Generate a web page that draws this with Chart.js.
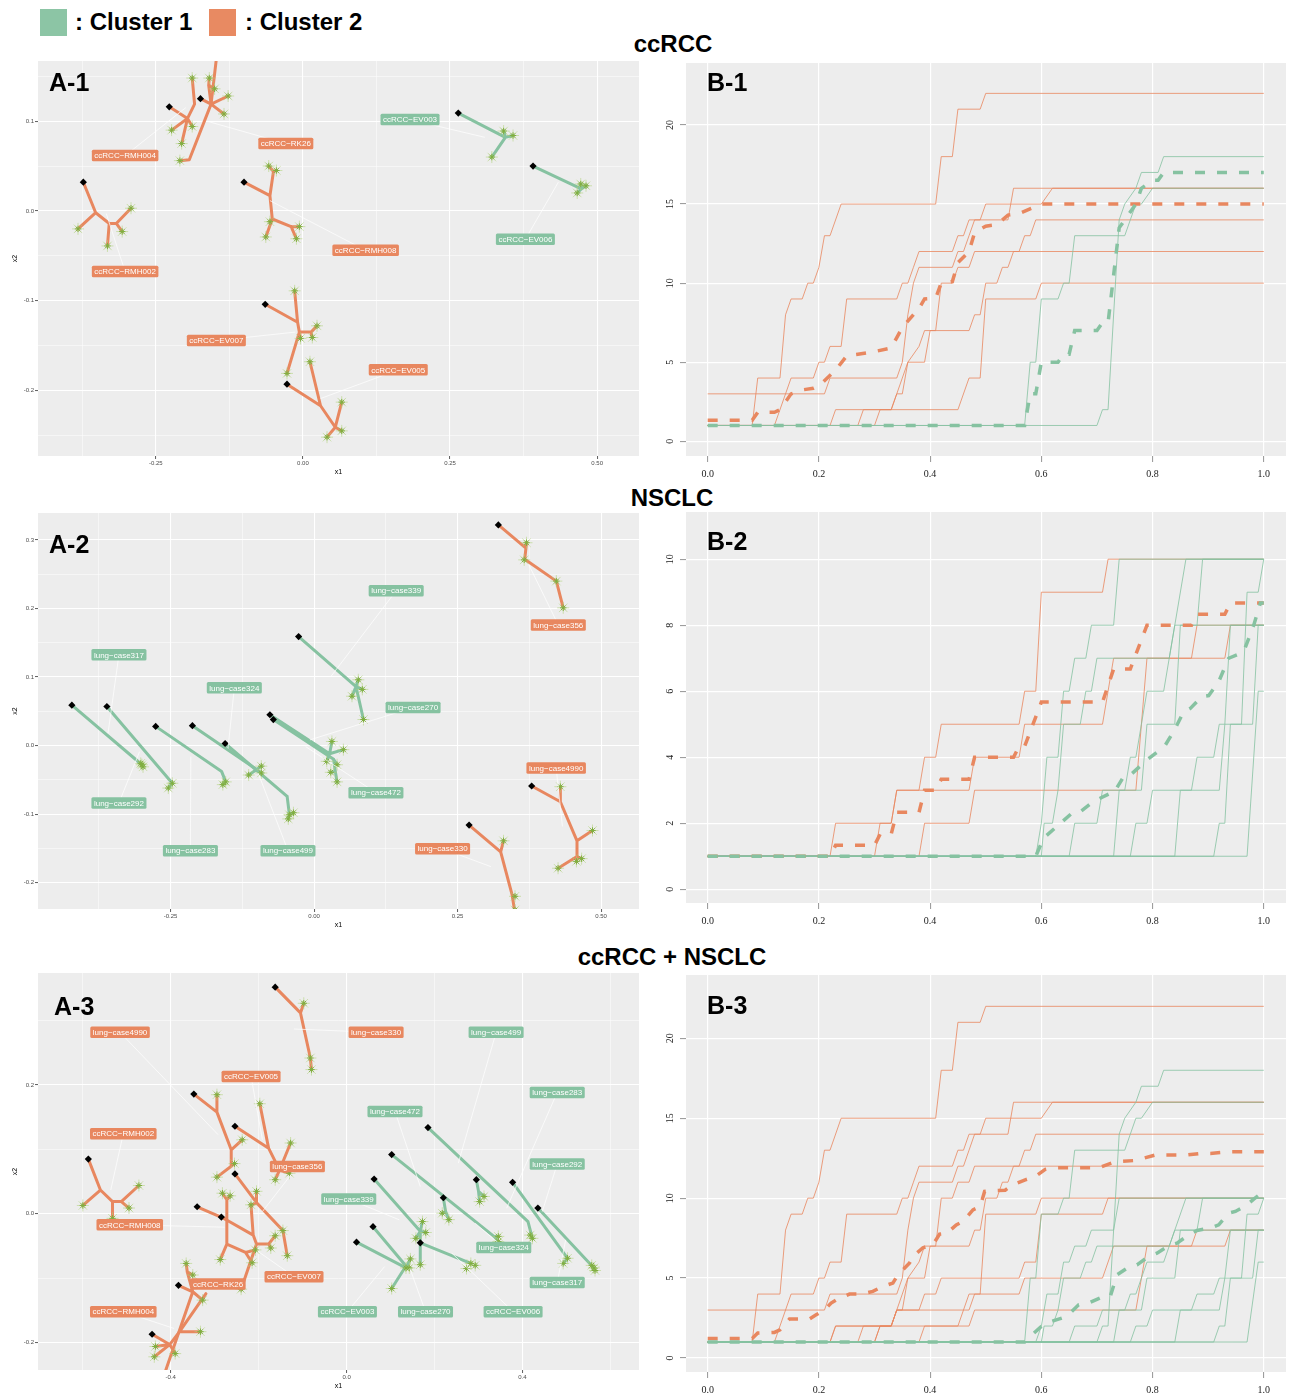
<!DOCTYPE html>
<html>
<head>
<meta charset="utf-8">
<script src="https://cdn.jsdelivr.net/npm/chart.js@4.4.0/dist/chart.umd.min.js"></script>
<style>
body { margin: 0; background: #fff; }
#page { position: relative; width: 1290px; height: 1395px; overflow: hidden; font-family: "Liberation Sans", Arial, sans-serif; }
canvas { position: absolute; }
.sq { position: absolute; width: 27px; height: 27px; }
.leg { position: absolute; font-weight: bold; font-size: 24px; line-height: 1; white-space: nowrap; }
.ttl { position: absolute; font-weight: bold; font-size: 24px; line-height: 1; white-space: nowrap; transform: translate(-50%, -50%); }
.tag { position: absolute; font-weight: bold; font-size: 25px; line-height: 1; white-space: nowrap; }
</style>
</head>
<body>
<div id="page">
  <div class="sq" style="left:40px;top:9px;background:#8CC5A5"></div>
  <div class="leg" style="left:75px;top:10px">: Cluster 1</div>
  <div class="sq" style="left:209px;top:9px;background:#E88A62"></div>
  <div class="leg" style="left:245px;top:10px">: Cluster 2</div>

  <div class="ttl" style="left:673px;top:44px">ccRCC</div>
  <div class="ttl" style="left:672px;top:498px">NSCLC</div>
  <div class="ttl" style="left:672px;top:957px">ccRCC + NSCLC</div>

  <canvas id="a1" width="639" height="415" style="left:0;top:61px"></canvas>
  <canvas id="b1" width="640" height="419" style="left:646px;top:63px"></canvas>
  <canvas id="a2" width="639" height="416" style="left:0;top:513px"></canvas>
  <canvas id="b2" width="640" height="417" style="left:646px;top:512px"></canvas>
  <canvas id="a3" width="639" height="417" style="left:0;top:973px"></canvas>
  <canvas id="b3" width="640" height="419" style="left:646px;top:975px"></canvas>

  <div class="tag" style="left:49px;top:70px">A-1</div>
  <div class="tag" style="left:707px;top:70px">B-1</div>
  <div class="tag" style="left:49px;top:532px">A-2</div>
  <div class="tag" style="left:707px;top:529px">B-2</div>
  <div class="tag" style="left:54px;top:994px">A-3</div>
  <div class="tag" style="left:707px;top:993px">B-3</div>
</div>

<script>
// ---------- A-1 : ccRCC trees ----------
var a1Names = ['ccRCC−RMH002', 'ccRCC−RMH004', 'ccRCC−RK26', 'ccRCC−EV003', 'ccRCC−EV006', 'ccRCC−RMH008', 'ccRCC−EV007', 'ccRCC−EV005'];
var a1Cluster = [2, 2, 2, 1, 1, 2, 2, 2];
var a1Roots = [[-0.373, 0.032], [-0.227, 0.116], [-0.174, 0.125], [0.264, 0.109], [0.391, 0.050], [-0.1, 0.032], [-0.064, -0.104], [-0.027, -0.193]];
var a1Edges = [
  [[-0.373, 0.032, -0.352, -0.002], [-0.352, -0.002, -0.382, -0.020], [-0.352, -0.002, -0.329, -0.014], [-0.329, -0.014, -0.332, -0.039], [-0.329, -0.014, -0.317, -0.014], [-0.317, -0.014, -0.292, 0.003], [-0.317, -0.014, -0.307, -0.023]],
  [[-0.227, 0.116, -0.196, 0.103], [-0.196, 0.103, -0.223, 0.090], [-0.196, 0.103, -0.206, 0.075], [-0.196, 0.103, -0.188, 0.094], [-0.196, 0.103, -0.184, 0.119], [-0.184, 0.119, -0.188, 0.148]],
  [[-0.174, 0.125, -0.156, 0.119], [-0.156, 0.119, -0.127, 0.128], [-0.156, 0.119, -0.134, 0.108], [-0.156, 0.119, -0.160, 0.140], [-0.160, 0.140, -0.159, 0.148], [-0.160, 0.140, -0.150, 0.136], [-0.156, 0.119, -0.146, 0.175], [-0.156, 0.119, -0.193, 0.057], [-0.193, 0.057, -0.209, 0.056]],
  [[0.264, 0.109, 0.344, 0.082], [0.344, 0.082, 0.357, 0.084], [0.344, 0.082, 0.321, 0.060], [0.344, 0.082, 0.341, 0.089]],
  [[0.391, 0.050, 0.473, 0.0245], [0.473, 0.0245, 0.466, 0.020], [0.473, 0.0245, 0.481, 0.028], [0.473, 0.0245, 0.472, 0.030]],
  [[-0.1, 0.032, -0.056, 0.017], [-0.056, 0.017, -0.05, 0.044], [-0.05, 0.044, -0.058, 0.050], [-0.05, 0.044, -0.045, 0.045], [-0.056, 0.017, -0.052, -0.009], [-0.052, -0.009, -0.063, -0.029], [-0.052, -0.009, -0.056, -0.012], [-0.052, -0.009, -0.02, -0.0175], [-0.02, -0.0175, -0.006, -0.0175], [-0.02, -0.0175, -0.011, -0.031]],
  [[-0.064, -0.104, -0.009, -0.124], [-0.009, -0.124, -0.014, -0.089], [-0.009, -0.124, -0.006, -0.135], [-0.006, -0.135, 0.014, -0.135], [0.014, -0.135, 0.024, -0.128], [0.014, -0.135, 0.016, -0.141], [-0.006, -0.135, -0.004, -0.142], [-0.006, -0.135, -0.027, -0.181]],
  [[-0.027, -0.193, 0.03, -0.217], [0.03, -0.217, 0.012, -0.168], [0.03, -0.217, 0.055, -0.241], [0.055, -0.241, 0.066, -0.213], [0.055, -0.241, 0.066, -0.245], [0.055, -0.241, 0.041, -0.252]]
];
var a1Leaves = [
  [[-0.382, -0.020], [-0.332, -0.039], [-0.292, 0.003], [-0.307, -0.023]],
  [[-0.223, 0.090], [-0.206, 0.075], [-0.188, 0.094], [-0.188, 0.148]],
  [[-0.127, 0.128], [-0.134, 0.108], [-0.159, 0.148], [-0.150, 0.136], [-0.209, 0.056]],
  [[0.321, 0.060], [0.341, 0.089], [0.357, 0.084]],
  [[0.466, 0.020], [0.481, 0.028], [0.472, 0.030]],
  [[-0.058, 0.050], [-0.045, 0.045], [-0.063, -0.029], [-0.056, -0.012], [-0.006, -0.0175], [-0.011, -0.031]],
  [[-0.014, -0.089], [0.024, -0.128], [0.016, -0.141], [-0.004, -0.142], [-0.027, -0.181]],
  [[0.012, -0.168], [0.066, -0.213], [0.066, -0.245], [0.041, -0.252]]
];
var a1LabelPos = [[-0.302, -0.0676], [-0.302, 0.0616], [-0.029, 0.075], [0.182, 0.1017], [0.378, -0.0316], [0.1066, -0.0439], [-0.147, -0.1444], [0.162, -0.177]];
var a1Anchors = [[-0.334, -0.003], [-0.199, 0.115], [-0.163, 0.100], [0.309, 0.082], [0.434, 0.032], [-0.056, 0.0115], [-0.013, -0.135], [0.03, -0.209]];

// ---------- A-2 : NSCLC trees ----------
var a2Names = ['lung−case356', 'lung−case4990', 'lung−case330', 'lung−case339', 'lung−case317', 'lung−case292', 'lung−case283', 'lung−case324', 'lung−case499', 'lung−case270', 'lung−case472'];
var a2Cluster = [2, 2, 2, 1, 1, 1, 1, 1, 1, 1, 1];
var a2Roots = [[0.321, 0.322], [0.379, -0.059], [0.270, -0.116], [-0.027, 0.159], [-0.361, 0.057], [-0.422, 0.059], [-0.276, 0.028], [-0.212, 0.029], [-0.155, 0.003], [-0.077, 0.045], [-0.071, 0.038]];
var a2Edges = [
  [[0.321, 0.322, 0.369, 0.288], [0.369, 0.288, 0.370, 0.296], [0.369, 0.288, 0.367, 0.272], [0.367, 0.272, 0.422, 0.240], [0.422, 0.240, 0.434, 0.201]],
  [[0.379, -0.059, 0.429, -0.082], [0.429, -0.082, 0.429, -0.060], [0.429, -0.082, 0.458, -0.139], [0.458, -0.139, 0.485, -0.124], [0.458, -0.139, 0.458, -0.162], [0.458, -0.162, 0.466, -0.165], [0.458, -0.162, 0.425, -0.179], [0.458, -0.162, 0.457, -0.169]],
  [[0.270, -0.116, 0.325, -0.155], [0.325, -0.155, 0.330, -0.139], [0.325, -0.155, 0.345, -0.218], [0.345, -0.218, 0.350, -0.220], [0.345, -0.218, 0.350, -0.245]],
  [[-0.027, 0.159, 0.073, 0.086], [0.073, 0.086, 0.077, 0.096], [0.073, 0.086, 0.084, 0.082], [0.073, 0.086, 0.066, 0.072], [0.073, 0.086, 0.086, 0.038]],
  [[-0.361, 0.057, -0.247, -0.055], [-0.247, -0.055, -0.254, -0.062]],
  [[-0.422, 0.059, -0.30, -0.028]],
  [[-0.276, 0.028, -0.161, -0.038], [-0.161, -0.038, -0.154, -0.053], [-0.154, -0.053, -0.159, -0.057]],
  [[-0.212, 0.029, -0.100, -0.035], [-0.100, -0.035, -0.114, -0.043], [-0.100, -0.035, -0.092, -0.030], [-0.100, -0.035, -0.092, -0.040]],
  [[-0.155, 0.003, -0.047, -0.074], [-0.047, -0.074, -0.043, -0.101], [-0.043, -0.101, -0.036, -0.098], [-0.043, -0.101, -0.045, -0.107]],
  [[-0.077, 0.045, 0.027, -0.012], [0.027, -0.012, 0.031, 0.006], [0.027, -0.012, 0.022, -0.023], [0.027, -0.012, 0.051, -0.006]],
  [[-0.071, 0.038, 0.034, -0.020], [0.034, -0.020, 0.037, -0.038], [0.037, -0.038, 0.040, -0.053], [0.037, -0.038, 0.029, -0.039], [0.034, -0.020, 0.040, -0.028]]
];
var a2Leaves = [
  [[0.370, 0.296], [0.366, 0.271], [0.422, 0.240], [0.434, 0.201]],
  [[0.429, -0.060], [0.485, -0.124], [0.466, -0.165], [0.425, -0.179], [0.457, -0.169]],
  [[0.330, -0.139], [0.350, -0.220], [0.350, -0.240]],
  [[0.077, 0.096], [0.084, 0.082], [0.066, 0.072], [0.086, 0.038]],
  [[-0.247, -0.055], [-0.254, -0.062]],
  [[-0.30, -0.028], [-0.298, -0.031], [-0.302, -0.026]],
  [[-0.159, -0.057], [-0.154, -0.053]],
  [[-0.114, -0.043], [-0.092, -0.030], [-0.092, -0.040]],
  [[-0.036, -0.098], [-0.045, -0.107], [-0.043, -0.101]],
  [[0.031, 0.006], [0.022, -0.023], [0.051, -0.006]],
  [[0.040, -0.053], [0.029, -0.039], [0.040, -0.028]]
];
var a2LabelPos = [[0.4254, 0.176], [0.4217, -0.0326], [0.2238, -0.1505], [0.143, 0.226], [-0.340, 0.1324], [-0.340, -0.0837], [-0.2155, -0.1534], [-0.139, 0.0842], [-0.0455, -0.1534], [0.1724, 0.0554], [0.1077, -0.0687]];
var a2Anchors = [[0.374, 0.264], [0.4326, -0.118], [0.308, -0.1767], [0.0293, 0.1008], [-0.359, 0.018], [-0.304, -0.0088], [-0.2148, -0.016], [-0.150, -0.004], [-0.0975, -0.040], [-0.0073, 0.0083], [-0.0147, -0.0015]];

// ---------- A-3 : ccRCC + NSCLC trees ----------
var a3Names = ['lung−case330', 'lung−case4990', 'lung−case356', 'ccRCC−EV005', 'ccRCC−RMH002', 'ccRCC−RMH008', 'ccRCC−EV007', 'ccRCC−RK26', 'ccRCC−RMH004',
  'lung−case499', 'lung−case324', 'lung−case317', 'lung−case292', 'lung−case339', 'lung−case472', 'lung−case283', 'ccRCC−EV003', 'lung−case270', 'ccRCC−EV006'];
var a3Cluster = [2, 2, 2, 2, 2, 2, 2, 2, 2, 1, 1, 1, 1, 1, 1, 1, 1, 1, 1];
var a3Roots = [[-0.1625, 0.352], [-0.3475, 0.186], [-0.254, 0.136], [-0.254, 0.062], [-0.5875, 0.085], [-0.34, 0.011], [-0.285, -0.005], [-0.3825, -0.111], [-0.4425, -0.187],
  [0.185, 0.134], [0.1025, 0.092], [0.3775, 0.049], [0.435, 0.009], [0.0625, 0.054], [0.295, 0.053], [0.22, 0.025], [0.06, -0.020], [0.0225, -0.044], [0.1675, -0.045]];
var a3Edges = [
  [[-0.1625, 0.352, -0.105, 0.312], [-0.105, 0.312, -0.0975, 0.327], [-0.105, 0.312, -0.0825, 0.242], [-0.0825, 0.242, -0.08, 0.224]],
  [[-0.3475, 0.186, -0.295, 0.158], [-0.295, 0.158, -0.295, 0.185], [-0.295, 0.158, -0.2625, 0.0995], [-0.2625, 0.0995, -0.2375, 0.115], [-0.2625, 0.0995, -0.2625, 0.074], [-0.2625, 0.074, -0.295, 0.057], [-0.2625, 0.074, -0.255, 0.078]],
  [[-0.254, 0.136, -0.1775, 0.102], [-0.1775, 0.102, -0.1975, 0.171], [-0.1775, 0.102, -0.1525, 0.068], [-0.1525, 0.068, -0.1275, 0.11], [-0.1525, 0.068, -0.1625, 0.053], [-0.1525, 0.068, -0.13, 0.063]],
  [[-0.254, 0.062, -0.204, 0.0166], [-0.204, 0.0166, -0.205, 0.035], [-0.204, 0.0166, -0.145, -0.026], [-0.145, -0.026, -0.135, -0.065], [-0.204, 0.0166, -0.2175, 0.014]],
  [[-0.5875, 0.085, -0.56, 0.037], [-0.56, 0.037, -0.6, 0.013], [-0.56, 0.037, -0.5325, 0.019], [-0.5325, 0.019, -0.5325, -0.007], [-0.5325, 0.019, -0.5125, 0.019], [-0.5125, 0.019, -0.4725, 0.044], [-0.5125, 0.019, -0.495, 0.009]],
  [[-0.34, 0.011, -0.2725, -0.009], [-0.2725, -0.009, -0.2725, 0.022], [-0.2725, 0.022, -0.2825, 0.032], [-0.2725, 0.022, -0.265, 0.028], [-0.2725, -0.009, -0.2725, -0.047], [-0.2725, -0.047, -0.2875, -0.071], [-0.2725, -0.047, -0.23, -0.060], [-0.23, -0.060, -0.215, -0.076], [-0.23, -0.060, -0.2075, -0.056]],
  [[-0.285, -0.005, -0.2125, -0.033], [-0.2125, -0.033, -0.2175, 0.014], [-0.2125, -0.033, -0.205, -0.047], [-0.205, -0.047, -0.1775, -0.047], [-0.1775, -0.047, -0.1625, -0.034], [-0.1775, -0.047, -0.1725, -0.053], [-0.205, -0.047, -0.24, -0.117]],
  [[-0.3825, -0.111, -0.35, -0.121], [-0.35, -0.121, -0.3275, -0.134], [-0.35, -0.121, -0.3625, -0.090], [-0.3625, -0.090, -0.365, -0.077], [-0.3625, -0.090, -0.35, -0.095], [-0.35, -0.121, -0.4125, -0.245]],
  [[-0.4425, -0.187, -0.4025, -0.203], [-0.4025, -0.203, -0.435, -0.206], [-0.4025, -0.203, -0.4375, -0.222], [-0.4025, -0.203, -0.39, -0.217], [-0.4025, -0.203, -0.38, -0.183], [-0.38, -0.183, -0.3325, -0.183], [-0.38, -0.183, -0.32, -0.124]],
  [[0.185, 0.134, 0.4125, -0.012], [0.4125, -0.012, 0.4225, -0.038]],
  [[0.1025, 0.092, 0.335, -0.035], [0.335, -0.035, 0.345, -0.035], [0.335, -0.035, 0.345, -0.043]],
  [[0.3775, 0.049, 0.5025, -0.069], [0.5025, -0.069, 0.4925, -0.077]],
  [[0.435, 0.009, 0.5625, -0.084]],
  [[0.0625, 0.054, 0.1675, -0.027], [0.1675, -0.027, 0.1725, -0.012], [0.1675, -0.027, 0.18, -0.029], [0.1675, -0.027, 0.1675, -0.079], [0.1675, -0.027, 0.1575, -0.038]],
  [[0.295, 0.053, 0.30, 0.035], [0.30, 0.035, 0.3025, 0.019], [0.30, 0.035, 0.3125, 0.027]],
  [[0.22, 0.025, 0.225, 0.004], [0.225, 0.004, 0.2175, 0.001], [0.225, 0.004, 0.2325, -0.009]],
  [[0.06, -0.020, 0.135, -0.081], [0.135, -0.081, 0.1025, -0.116], [0.135, -0.081, 0.1425, -0.084]],
  [[0.0225, -0.044, 0.135, -0.084], [0.135, -0.084, 0.145, -0.070]],
  [[0.1675, -0.045, 0.2825, -0.077]]
];
var a3Leaves = [
  [[-0.0975, 0.327], [-0.0825, 0.242], [-0.08, 0.224]],
  [[-0.295, 0.185], [-0.2375, 0.115], [-0.295, 0.057], [-0.255, 0.078]],
  [[-0.1975, 0.171], [-0.1275, 0.11], [-0.1625, 0.053], [-0.13, 0.063]],
  [[-0.205, 0.035], [-0.145, -0.026], [-0.135, -0.065], [-0.2175, 0.014]],
  [[-0.6, 0.013], [-0.5325, -0.007], [-0.4725, 0.044], [-0.495, 0.009]],
  [[-0.2825, 0.032], [-0.265, 0.028], [-0.2875, -0.071], [-0.215, -0.076], [-0.2075, -0.056]],
  [[-0.1625, -0.034], [-0.1725, -0.053], [-0.24, -0.117]],
  [[-0.3275, -0.134], [-0.365, -0.077], [-0.35, -0.095]],
  [[-0.435, -0.206], [-0.4375, -0.222], [-0.39, -0.217], [-0.3325, -0.183]],
  [[0.4225, -0.038], [0.4175, -0.033]],
  [[0.345, -0.035], [0.345, -0.043]],
  [[0.4925, -0.077], [0.5025, -0.069]],
  [[0.5625, -0.084], [0.5575, -0.080], [0.565, -0.088]],
  [[0.1725, -0.012], [0.18, -0.029], [0.1675, -0.079], [0.1575, -0.038]],
  [[0.3025, 0.019], [0.3125, 0.027]],
  [[0.2175, 0.001], [0.2325, -0.009]],
  [[0.1025, -0.116], [0.1425, -0.084]],
  [[0.135, -0.084], [0.145, -0.070]],
  [[0.2825, -0.077], [0.2725, -0.085], [0.2925, -0.080]]
];
var a3LabelPos = [[0.067, 0.2818], [-0.5154, 0.2818], [-0.112, 0.0735], [-0.2174, 0.2134], [-0.508, 0.1244], [-0.4933, -0.0171], [-0.1197, -0.0975], [-0.2923, -0.1088], [-0.508, -0.1519],
  [0.340, 0.2818], [0.3574, -0.0524], [0.479, -0.1068], [0.479, 0.0773], [0.0048, 0.0229], [0.110, 0.159], [0.479, 0.1886], [0.0018, -0.1519], [0.1794, -0.1519], [0.3786, -0.1519]];
var a3Anchors = [[-0.12, 0.287], [-0.2925, 0.123], [-0.1915, 0.0036], [-0.1915, 0.115], [-0.5365, 0.037], [-0.2775, -0.0207], [-0.2013, -0.0585], [-0.34, -0.118], [-0.3925, -0.178],
  [0.254, 0.0788], [0.2923, -0.0145], [0.4983, -0.0404], [0.445, 0.0036], [0.1198, -0.0093], [0.1675, 0.0425], [0.364, 0.0088], [0.0863, -0.0819], [0.1438, -0.0845], [0.2395, -0.0611]];

// ---------- B-1 : ccRCC curves ----------
var b1Orange = [
  [[0, 1], [0.08, 1], [0.09, 4], [0.13, 4], [0.14, 8], [0.15, 9], [0.17, 9], [0.18, 10], [0.19, 10], [0.20, 11], [0.21, 13], [0.22, 13], [0.24, 15], [0.41, 15], [0.42, 18], [0.44, 18], [0.45, 21], [0.49, 21], [0.50, 22], [1, 22]],
  [[0, 1], [0.12, 1], [0.14, 3], [0.15, 4], [0.19, 4], [0.20, 5], [0.21, 5], [0.22, 6], [0.24, 6], [0.25, 9], [0.34, 9], [0.35, 10], [0.36, 10], [0.37, 11], [0.38, 12], [0.44, 12], [0.45, 13], [0.46, 13], [0.47, 14], [0.49, 14], [0.50, 15], [0.60, 15], [0.62, 16], [1, 16]],
  [[0, 3], [0.21, 3], [0.22, 4], [0.34, 4], [0.35, 5], [0.36, 8], [0.37, 10], [0.38, 11], [0.44, 11], [0.45, 12], [0.46, 12], [0.47, 13], [0.48, 14], [0.54, 14], [0.55, 16], [1, 16]],
  [[0, 1], [0.22, 1], [0.23, 2], [0.45, 2], [0.47, 4], [0.49, 4], [0.50, 9], [0.59, 9], [0.60, 10], [1, 10]],
  [[0, 1], [0.27, 1], [0.28, 2], [0.33, 2], [0.34, 3], [0.35, 3], [0.36, 5], [0.38, 6], [0.39, 7], [0.47, 7], [0.48, 8], [0.49, 8], [0.50, 10], [0.52, 10], [0.53, 11], [0.54, 11], [0.55, 12], [0.56, 12], [0.57, 13], [0.58, 13], [0.59, 14], [1, 14]],
  [[0, 1], [0.30, 1], [0.31, 2], [0.33, 2], [0.34, 3], [0.35, 4], [0.36, 5], [0.39, 5], [0.40, 7], [0.41, 7], [0.42, 10], [0.44, 10], [0.45, 11], [0.47, 11], [0.48, 12], [1, 12]]
];
var b1Green = [
  [[0, 1], [0.57, 1], [0.58, 5], [0.59, 5], [0.60, 9], [0.63, 9], [0.64, 10], [0.65, 10], [0.66, 13], [0.75, 13], [0.76, 14], [0.77, 15], [0.78, 15], [0.80, 16], [1, 16]],
  [[0, 1], [0.70, 1], [0.71, 2], [0.72, 2], [0.74, 14], [0.75, 15], [0.77, 16], [0.78, 17], [0.81, 17], [0.82, 18], [1, 18]]
];
var b1OrangeMean = [[0, 1.33], [0.08, 1.33], [0.09, 1.83], [0.12, 1.83], [0.13, 2], [0.15, 3], [0.17, 3.25], [0.19, 3.35], [0.20, 3.5], [0.23, 4.5], [0.25, 5.4], [0.27, 5.5], [0.30, 5.67], [0.33, 5.9], [0.35, 7.2], [0.38, 8.4], [0.39, 9], [0.41, 9.05], [0.42, 10], [0.44, 10.1], [0.45, 11.3], [0.47, 12], [0.48, 13.2], [0.50, 13.6], [0.52, 13.7], [0.54, 14.3], [0.56, 14.4], [0.60, 15], [1, 15]];
var b1GreenMean = [[0, 1], [0.57, 1], [0.58, 3], [0.59, 3], [0.60, 5], [0.63, 5], [0.64, 5.5], [0.65, 5.5], [0.66, 7], [0.70, 7], [0.71, 7.5], [0.72, 7.5], [0.74, 13.5], [0.75, 14], [0.76, 14.5], [0.77, 15], [0.78, 16], [0.80, 16.5], [0.81, 16.5], [0.82, 17], [1, 17]];

// ---------- B-2 : NSCLC curves ----------
var b2Orange = [
  [[0, 1], [0.22, 1], [0.23, 2], [0.33, 2], [0.34, 3], [0.38, 3], [0.39, 4], [0.41, 4], [0.42, 5], [0.56, 5], [0.57, 6], [0.59, 6], [0.60, 9], [0.71, 9], [0.72, 10], [1, 10]],
  [[0, 1], [0.30, 1], [0.31, 2], [0.33, 2], [0.34, 3], [0.47, 3], [0.48, 4], [0.56, 4], [0.57, 5], [0.71, 5], [0.73, 7], [0.87, 7], [0.88, 8], [1, 8]],
  [[0, 1], [0.38, 1], [0.39, 2], [0.47, 2], [0.48, 3], [0.77, 3], [0.78, 5], [0.79, 7], [0.93, 7], [0.94, 8], [1, 8]]
];
var b2Green = [
  [[0, 1], [0.59, 1], [0.60, 2], [0.61, 4], [0.63, 4], [0.64, 6], [0.65, 6], [0.66, 7], [0.68, 7], [0.69, 8], [0.73, 8], [0.74, 10], [1, 10]],
  [[0, 1], [0.60, 1], [0.605, 2], [0.62, 2], [0.63, 3], [0.64, 5], [0.67, 5], [0.68, 6], [0.69, 6], [0.70, 7], [0.83, 7], [0.86, 10], [1, 10]],
  [[0, 1], [0.65, 1], [0.66, 2], [0.70, 2], [0.71, 3], [0.75, 3], [0.76, 4], [0.77, 4], [0.79, 6], [0.82, 6], [0.83, 7], [0.84, 8], [1, 8]],
  [[0, 1], [0.73, 1], [0.74, 3], [0.78, 3], [0.79, 5], [0.84, 5], [0.85, 8], [0.88, 8], [0.89, 10], [1, 10]],
  [[0, 1], [0.76, 1], [0.77, 2], [0.79, 2], [0.80, 3], [0.87, 3], [0.88, 4], [0.91, 4], [0.92, 5], [0.93, 5], [0.94, 8], [1, 8]],
  [[0, 1], [0.84, 1], [0.85, 3], [0.92, 3], [0.93, 5], [0.98, 5], [0.99, 8], [1, 8]],
  [[0, 1], [0.91, 1], [0.92, 2], [0.93, 2], [0.94, 5], [0.96, 5], [0.97, 9], [0.99, 9], [1, 10]],
  [[0, 1], [0.97, 1], [0.99, 6], [1, 6]]
];
var b2OrangeMean = [[0, 1], [0.22, 1], [0.23, 1.33], [0.30, 1.33], [0.31, 1.67], [0.33, 1.67], [0.34, 2.33], [0.38, 2.33], [0.39, 3], [0.41, 3], [0.42, 3.33], [0.47, 3.33], [0.48, 4], [0.55, 4], [0.56, 4.33], [0.57, 4.33], [0.60, 5.67], [0.71, 5.67], [0.73, 6.67], [0.76, 6.67], [0.79, 8], [0.87, 8], [0.88, 8.33], [0.93, 8.33], [0.94, 8.67], [1, 8.67]];
var b2GreenMean = [[0, 1], [0.59, 1], [0.604, 1.55], [0.658, 2.35], [0.67, 2.35], [0.694, 2.66], [0.724, 2.91], [0.73, 2.91], [0.748, 3.41], [0.76, 3.46], [0.79, 3.92], [0.817, 4.27], [0.823, 4.37], [0.838, 4.78], [0.856, 5.38], [0.868, 5.48], [0.889, 5.84], [0.901, 5.87], [0.919, 6.29], [0.937, 7.0], [0.958, 7.15], [0.964, 7.2], [0.982, 8.0], [0.994, 8.67], [1, 8.67]];

// ---------- B-3 : ccRCC + NSCLC means (thin curves are the B-1 and B-2 ones) ----------
var b3OrangeMean = [[0, 1.22], [0.08, 1.22], [0.09, 1.56], [0.12, 1.6], [0.13, 1.77], [0.147, 2.44], [0.183, 2.44], [0.195, 2.7], [0.21, 3.0], [0.222, 3.44], [0.234, 3.69], [0.255, 4.0], [0.276, 4.0], [0.297, 4.17], [0.315, 4.48], [0.333, 4.69], [0.342, 5.2], [0.363, 5.94], [0.369, 6.35], [0.387, 6.9], [0.405, 7.08], [0.417, 7.75], [0.43, 7.8], [0.447, 8.33], [0.459, 8.54], [0.477, 9.27], [0.49, 9.48], [0.498, 10.42], [0.51, 10.46], [0.535, 10.5], [0.547, 10.8], [0.571, 11.15], [0.589, 11.35], [0.607, 11.8], [0.622, 11.9], [0.703, 11.9], [0.727, 12.2], [0.742, 12.3], [0.766, 12.35], [0.784, 12.5], [0.805, 12.7], [0.862, 12.7], [0.886, 12.8], [0.904, 12.8], [0.928, 12.87], [0.943, 12.9], [1, 12.9]];
var b3GreenMean = [[0, 1], [0.57, 1], [0.58, 1.35], [0.60, 1.98], [0.613, 2.23], [0.637, 2.5], [0.652, 2.81], [0.667, 3.33], [0.685, 3.44], [0.709, 3.81], [0.724, 3.85], [0.736, 5.2], [0.757, 5.69], [0.772, 5.83], [0.793, 6.35], [0.808, 6.56], [0.832, 7.08], [0.844, 7.19], [0.865, 7.7], [0.88, 7.98], [0.904, 8.13], [0.919, 8.33], [0.937, 9.06], [0.949, 9.17], [0.97, 9.58], [0.982, 9.94], [1, 10.42]];

var ORANGE = '#E8875F';
var GREEN = '#86C2A1';
var PANEL_BG = '#EDEDED';
var SANS = '"Liberation Sans", Arial, sans-serif';
var SERIF = '"Liberation Serif", "Times New Roman", serif';

Chart.defaults.font.family = SANS;
Chart.defaults.animation = false;

function toPts(list) {
    return list.map(function(p) { return { x: p[0], y: p[1] }; });
}

// grey panel behind the plot area
function panelBackground(color) {
    return {
        id: 'panelBg',
        beforeDraw: function(chart) {
            var a = chart.chartArea;
            chart.ctx.save();
            chart.ctx.fillStyle = color;
            chart.ctx.fillRect(a.left, a.top, a.right - a.left, a.bottom - a.top);
            chart.ctx.restore();
        }
    };
}

// ggrepel-like case labels with white leader lines
function caseLabels(names, cluster, labelPos, anchors) {
    return {
        id: 'caseLabels',
        afterDatasetsDraw: function(chart) {
            var ctx = chart.ctx, xs = chart.scales.x, ys = chart.scales.y;
            ctx.save();
            ctx.strokeStyle = '#FFFFFF';
            ctx.lineWidth = 0.7;
            for (var i = 0; i < names.length; i++) {
                ctx.beginPath();
                ctx.moveTo(xs.getPixelForValue(labelPos[i][0]), ys.getPixelForValue(labelPos[i][1]));
                ctx.lineTo(xs.getPixelForValue(anchors[i][0]), ys.getPixelForValue(anchors[i][1]));
                ctx.stroke();
            }
            ctx.font = '8px ' + SANS;
            ctx.textAlign = 'center';
            ctx.textBaseline = 'middle';
            for (var j = 0; j < names.length; j++) {
                var cx = xs.getPixelForValue(labelPos[j][0]);
                var cy = ys.getPixelForValue(labelPos[j][1]);
                var w = ctx.measureText(names[j]).width + 5, h = 11.5;
                ctx.fillStyle = cluster[j] === 1 ? GREEN : ORANGE;
                ctx.beginPath();
                ctx.roundRect(cx - w / 2, cy - h / 2, w, h, 1.5);
                ctx.fill();
                ctx.fillStyle = '#FFFFFF';
                ctx.fillText(names[j], cx, cy + 0.5);
            }
            ctx.restore();
        }
    };
}

function ggAxis(min, max, step, major, digits, title, isX) {
    var isMajor = function(v) { return Math.abs(v / major - Math.round(v / major)) < 1e-6; };
    return {
        type: 'linear', min: min, max: max,
        ticks: {
            stepSize: step, includeBounds: false, autoSkip: false, maxRotation: 0, minRotation: 0, padding: 1,
            font: { size: 6 }, color: '#4D4D4D',
            callback: function(v) { return isMajor(v) ? (Math.abs(v) < 1e-9 ? 0 : v).toFixed(digits) : ''; }
        },
        grid: {
            color: '#FFFFFF',
            lineWidth: function(c) { return c.tick && isMajor(c.tick.value) ? 1.1 : 0.5; },
            tickLength: 3, tickWidth: 0.8,
            tickColor: function(c) { return c.tick && isMajor(c.tick.value) ? '#333333' : 'rgba(0,0,0,0)'; }
        },
        border: { display: false },
        title: { display: true, text: title, color: '#000', font: { size: 7 }, padding: isX ? { top: 0, bottom: 0 } : { top: 11, bottom: 0 } },
        afterFit: function(s) {
            if (isX) { s.height = 20; s.paddingLeft = 0; s.paddingRight = 0; }
            else { s.width = 38; s.paddingTop = 0; s.paddingBottom = 0; }
        }
    };
}

function makeTreeChart(id, xr, yr, names, cluster, roots, edges, leaves, labelPos, anchors) {
    var datasets = [];
    var leafPts = [];
    leaves.forEach(function(list) { list.forEach(function(p) { leafPts.push({ x: p[0], y: p[1] }); }); });

    datasets.push({ data: toPts(roots), showLine: false, pointStyle: 'rectRot', pointRadius: 3.6,
        backgroundColor: '#000', borderColor: '#000', borderWidth: 0, order: 0 });
    datasets.push({ data: leafPts, showLine: false, pointStyle: 'star', pointRadius: 3.2,
        borderColor: '#80AE40', borderWidth: 1, order: 1 });
    datasets.push({ data: leafPts, showLine: false, pointStyle: 'star', pointRadius: 6,
        borderColor: 'rgba(175,210,120,0.55)', borderWidth: 1, order: 2 });

    edges.forEach(function(segs, i) {
        var pts = [];
        segs.forEach(function(s) {
            pts.push({ x: s[0], y: s[1] }, { x: s[2], y: s[3] }, { x: s[2], y: null });
        });
        datasets.push({ data: pts, showLine: true, spanGaps: false, pointRadius: 0,
            borderColor: cluster[i] === 1 ? GREEN : ORANGE, borderWidth: 3,
            borderCapStyle: 'round', borderJoinStyle: 'round', order: 3 });
    });

    return new Chart(document.getElementById(id), {
        type: 'scatter',
        data: { datasets: datasets },
        options: {
            responsive: false, devicePixelRatio: 1, events: [],
            layout: { padding: 0, autoPadding: false },
            plugins: { legend: { display: false }, tooltip: { enabled: false } },
            scales: { x: xr, y: yr }
        },
        plugins: [panelBackground(PANEL_BG), caseLabels(names, cluster, labelPos, anchors)]
    });
}

// R base-graphics style axes for the B panels
function rAxisX(xAxisHeight) {
    return {
        type: 'linear', min: -0.039, max: 1.04,
        ticks: { stepSize: 0.2, includeBounds: false, autoSkip: false, maxRotation: 0, minRotation: 0, padding: 6,
            font: { size: 10, family: SERIF }, color: '#222',
            callback: function(v) { return v.toFixed(1); } },
        grid: { color: '#FFFFFF', lineWidth: 1.2, tickLength: 6, tickWidth: 0.8, tickColor: '#777' },
        border: { display: false },
        afterFit: function(s) { s.height = xAxisHeight; s.paddingLeft = 0; s.paddingRight = 0; }
    };
}

function rAxisY(min, max, step) {
    return {
        type: 'linear', min: min, max: max,
        ticks: { stepSize: step, includeBounds: false, autoSkip: false, padding: 3,
            font: { size: 10, family: SERIF }, color: 'rgba(0,0,0,0)' },
        grid: { color: '#FFFFFF', lineWidth: 1.2, tickLength: 6, tickWidth: 0.8, tickColor: '#777' },
        border: { display: false },
        afterFit: function(s) { s.width = 40; s.paddingTop = 0; s.paddingBottom = 0; }
    };
}

// rotated y tick labels, as R draws them
var rotatedYLabels = {
    id: 'rotatedYLabels',
    afterDraw: function(chart) {
        var ctx = chart.ctx, ys = chart.scales.y, left = chart.chartArea.left;
        ctx.save();
        ctx.font = '10px ' + SERIF;
        ctx.fillStyle = '#222';
        ctx.textAlign = 'center';
        ctx.textBaseline = 'middle';
        ys.ticks.forEach(function(t) {
            ctx.save();
            ctx.translate(left - 16, ys.getPixelForValue(t.value));
            ctx.rotate(-Math.PI / 2);
            ctx.fillText(String(t.value), 0, 0);
            ctx.restore();
        });
        ctx.restore();
    }
};

function makeCurveChart(id, yMin, yMax, yStep, xAxisHeight, orangeLines, greenLines, orangeMean, greenMean) {
    var datasets = [];
    datasets.push({ data: toPts(greenMean), borderColor: GREEN, borderWidth: 3.5, borderDash: [10, 12], order: 0 });
    datasets.push({ data: toPts(orangeMean), borderColor: ORANGE, borderWidth: 3.5, borderDash: [10, 12], order: 1 });
    greenLines.forEach(function(l) {
        datasets.push({ data: toPts(l), borderColor: 'rgba(134,194,161,0.8)', borderWidth: 1, order: 2 });
    });
    orangeLines.forEach(function(l) {
        datasets.push({ data: toPts(l), borderColor: 'rgba(232,135,95,0.8)', borderWidth: 1, order: 3 });
    });
    datasets.forEach(function(d) { d.showLine = true; d.pointRadius = 0; d.fill = false; });

    return new Chart(document.getElementById(id), {
        type: 'scatter',
        data: { datasets: datasets },
        options: {
            responsive: false, devicePixelRatio: 1, events: [],
            layout: { padding: 0, autoPadding: false },
            plugins: { legend: { display: false }, tooltip: { enabled: false } },
            scales: { x: rAxisX(xAxisHeight), y: rAxisY(yMin, yMax, yStep) }
        },
        plugins: [panelBackground(PANEL_BG), rotatedYLabels]
    });
}

makeTreeChart('a1',
    ggAxis(-0.45, 0.571, 0.125, 0.25, 2, 'x1', true),
    ggAxis(-0.273, 0.167, 0.05, 0.1, 1, 'x2', false),
    a1Names, a1Cluster, a1Roots, a1Edges, a1Leaves, a1LabelPos, a1Anchors);

makeTreeChart('a2',
    ggAxis(-0.481, 0.566, 0.125, 0.25, 2, 'x1', true),
    ggAxis(-0.2385, 0.3394, 0.05, 0.1, 1, 'x2', false),
    a2Names, a2Cluster, a2Roots, a2Edges, a2Leaves, a2LabelPos, a2Anchors);

makeTreeChart('a3',
    ggAxis(-0.702, 0.665, 0.2, 0.4, 1, 'x1', true),
    ggAxis(-0.2425, 0.374, 0.1, 0.2, 1, 'x2', false),
    a3Names, a3Cluster, a3Roots, a3Edges, a3Leaves, a3LabelPos, a3Anchors);

makeCurveChart('b1', -0.93, 23.92, 5, 26, b1Orange, b1Green, b1OrangeMean, b1GreenMean);
makeCurveChart('b2', -0.416, 11.43, 2, 26, b2Orange, b2Green, b2OrangeMean, b2GreenMean);
makeCurveChart('b3', -0.875, 23.96, 5, 22, b1Orange.concat(b2Orange), b1Green.concat(b2Green), b3OrangeMean, b3GreenMean);
</script>
</body>
</html>
